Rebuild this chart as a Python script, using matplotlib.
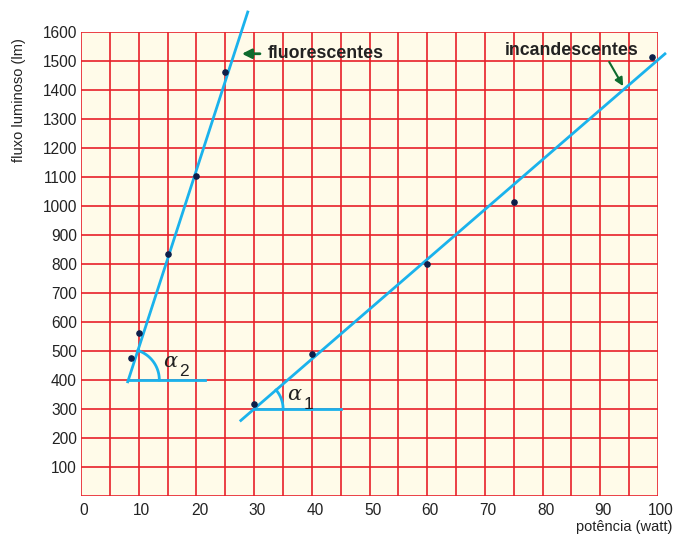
import numpy as np
import matplotlib.pyplot as plt
import matplotlib.transforms as mtransforms

# measured points (potencia W, fluxo lm)
fluor_w = [8.7, 10, 15, 20, 25]
fluor_lm = [475, 562, 834, 1103, 1462]
incand_w = [30, 40, 60, 75, 99]
incand_lm = [317, 490, 800, 1014, 1514]

# drawn straight lines (x range, slope, intercept)
fluor_line_x = [8.1, 28.9]
fluor_slope, fluor_b = 61.3, 400 - 61.3 * 8.2
incand_line_x = [27.7, 101.2]
incand_slope, incand_b = 17.2, 300 - 17.2 * 30

x_ticks = list(range(0, 101, 10))
y_ticks = list(range(100, 1601, 100))

RED = '#e8202a'
BLUE = '#1ab2ec'
DOT = '#0d1f4a'
GREEN = '#0f6b2e'
TXT = '#222222'

plt.rcParams['font.family'] = ['Liberation Sans', 'DejaVu Sans']

W, H = 674, 539
fig = plt.figure(figsize=(W / 100, H / 100), dpi=100)
l, r, b, t = 81, 658, 496, 32
ax = fig.add_axes([l / W, (H - b) / H, (r - l) / W, (b - t) / H])
ax.set_xlim(0, 100)
ax.set_ylim(0, 1600)
ax.set_facecolor('#fffbe9')
for s in ax.spines.values():
    s.set_visible(False)

for xv in np.arange(0, 101, 5):
    ax.axvline(xv, color=RED, lw=1.2, zorder=1)
for yv in np.arange(0, 1601, 100):
    ax.axhline(yv, color=RED, lw=1.2, zorder=1)

ax.set_xticks(x_ticks)
ax.set_xticklabels([str(v) for v in x_ticks], fontsize=11.2, color=TXT)
ax.set_yticks(y_ticks)
ax.set_yticklabels([str(v) for v in y_ticks], fontsize=11.2, color=TXT)
ax.tick_params(axis='x', length=0, pad=5)
ax.tick_params(axis='y', length=0, pad=3)
shift = mtransforms.ScaledTranslation(3 / 100, 0, fig.dpi_scale_trans)
for lab in ax.get_xticklabels():
    lab.set_transform(lab.get_transform() + shift)

# lines
fx = np.array(fluor_line_x)
ax.plot(fx, fluor_slope * fx + fluor_b, color=BLUE, lw=2, clip_on=False, zorder=3)
ix = np.array(incand_line_x)
ax.plot(ix, incand_slope * ix + incand_b, color=BLUE, lw=2, clip_on=False, zorder=3)

# horizontal reference lines
ax.plot([8.1, 21.5], [400, 400], color=BLUE, lw=2, zorder=3)
ax.plot([30, 45], [300, 300], color=BLUE, lw=2, zorder=3)

# angle arcs (circular in pixels)
sx = (r - l) / 100
sy = (b - t) / 1600


def arc(x0, y0, rad, a_deg):
    tt = np.radians(np.linspace(0, a_deg, 50))
    ax.plot(x0 + rad / sx * np.cos(tt), y0 + rad / sy * np.sin(tt),
            color=BLUE, lw=2, zorder=3)


arc(8.2, 400, 31, np.degrees(np.arctan(fluor_slope * sy / sx)))
arc(30, 300, 29, np.degrees(np.arctan(incand_slope * sy / sx)))

ax.text(14.2, 465, 'α', fontsize=15, color=TXT, family='DejaVu Serif',
        style='italic', va='center', zorder=4)
ax.text(17.0, 430, '2', fontsize=12.5, color=TXT, va='center', zorder=4)
ax.text(35.8, 350, 'α', fontsize=15, color=TXT, family='DejaVu Serif',
        style='italic', va='center', zorder=4)
ax.text(38.6, 315, '1', fontsize=12.5, color=TXT, va='center', zorder=4)

# points
ax.scatter(fluor_w, fluor_lm, s=14, color=DOT, zorder=5)
ax.scatter(incand_w, incand_lm, s=14, color=DOT, zorder=5, clip_on=False)

# labels with arrows
ax.annotate('', xy=(27.4, 1525), xytext=(31.5, 1525),
            arrowprops=dict(arrowstyle='-|>', color=GREEN, lw=2, mutation_scale=14))
ax.text(32.3, 1525, 'fluorescentes', fontsize=12.8, fontweight='bold',
        color=TXT, va='center', zorder=4)
ax.text(73.5, 1535, 'incandescentes', fontsize=12.8, fontweight='bold',
        color=TXT, va='center', zorder=4)
ax.annotate('', xy=(94.2, 1405), xytext=(91.3, 1505),
            arrowprops=dict(arrowstyle='-|>', color=GREEN, lw=1.5, mutation_scale=12))

fig.text(19 / W, (H - 100) / H, 'fluxo luminoso (lm)', rotation=90,
         fontsize=10.5, color=TXT, ha='center', va='center')
fig.text(672 / W, (H - 527) / H, 'potência (watt)', fontsize=10.5,
         color=TXT, ha='right', va='center')

fig.savefig('out.png', dpi=100)
